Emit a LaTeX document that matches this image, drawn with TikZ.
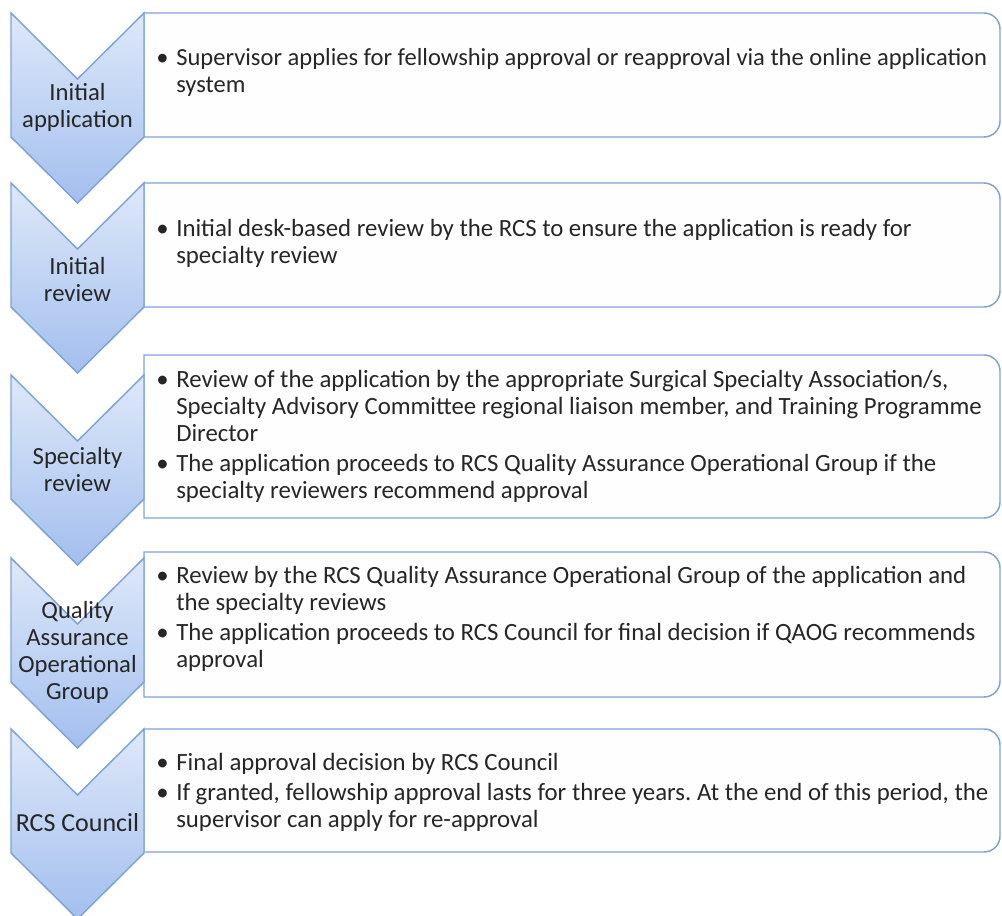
\documentclass[tikz,border=0pt]{standalone}
\usepackage{fontspec}
\setmainfont{Carlito}
\usepackage{array}
\frenchspacing
\definecolor{chevtop}{HTML}{DEE8F9}
\definecolor{chevbot}{HTML}{A3BFEE}
\definecolor{chevline}{HTML}{7EA3D8}
\definecolor{panelline}{HTML}{7EA3D8}
\definecolor{panelfill}{HTML}{FEFEFE}
\definecolor{textcol}{HTML}{262626}
% one process stage: chevron with its top edge at y=#1
\newcommand{\stagechevron}[1]{%
  \draw[stage] (11,#1) -- (77.5,#1+66) -- (144,#1) -- (144,#1+124)
    -- (77.5,#1+190) -- (11,#1+124) -- cycle;}
% description panel from y=#1 to y=#2, right corners rounded
\newcommand{\stagepanel}[2]{%
  \draw[panel] (144,#1) -- (984,#1) arc[start angle=90,end angle=0,radius=12pt]
    -- (1000,#2-16) arc[start angle=0,end angle=-90,radius=12pt] -- (144,#2) -- cycle;}
\newcommand{\bul}{\textbullet}
\begin{document}
\begin{tikzpicture}[x=0.75pt,y=-0.75pt,
  stage/.style={draw=chevline, line width=1.1pt, top color=chevtop, bottom color=chevbot},
  panel/.style={draw=panelline, line width=1.1pt, fill=panelfill},
  lbl/.style={align=center, text=textcol, font=\fontsize{18.5pt}{20.25pt}\selectfont, inner sep=0pt},
  desc/.style={anchor=west, text=textcol, font=\fontsize{18.6pt}{20.25pt}\selectfont, inner sep=0pt}]
\useasboundingbox[fill=white] (0,0) rectangle (1002,916);

% panels
\stagepanel{13}{137}
\stagepanel{183}{307}
\stagepanel{355}{518}
\stagepanel{552}{697}
\stagepanel{729}{852}

% chevrons
\stagechevron{13}
\stagechevron{183}
\stagechevron{375}
\stagechevron{558}
\stagechevron{729}

% chevron labels
\node[lbl] (s1) at (77.5,107) {Initial\\application};
\node[lbl] (s2) at (77.5,280) {Initial\\review};
\node[lbl] (s3) at (77.5,470) {Specialty\\review};
\node[lbl] (s4) at (77.5,652) {Quality\\Assurance\\Operational\\Group};
\node[lbl, font=\fontsize{19.5pt}{21pt}\selectfont] (s5) at (77.5,823) {RCS Council};

% panel texts
\node[desc, font=\fontsize{18.4pt}{20.25pt}\selectfont] (d1) at (156,74) {\begin{tabular}{@{}p{15pt}@{}l@{}}
\bul & Supervisor applies for fellowship approval or reapproval via the online application\\
 & system
\end{tabular}};
\node[desc] (d2) at (156,245) {\begin{tabular}{@{}p{15pt}@{}l@{}}
\bul & Initial desk-based review by the RCS to ensure the application is ready for\\
 & specialty review
\end{tabular}};
\node[desc] (d3) at (156,438) {\begin{tabular}{@{}p{15pt}@{}l@{}}
\bul & Review of the application by the appropriate Surgical Specialty Association/s,\\
 & Specialty Advisory Committee regional liaison member, and Training Programme\\
 & Director\\[2.25pt]
\bul & The application proceeds to RCS Quality Assurance Operational Group if the\\
 & specialty reviewers recommend approval
\end{tabular}};
\node[desc] (d4) at (156,620) {\begin{tabular}{@{}p{15pt}@{}l@{}}
\bul & Review by the RCS Quality Assurance Operational Group of the application and\\
 & the specialty reviews\\[2.25pt]
\bul & The application proceeds to RCS Council for final decision if QAOG recommends\\
 & approval
\end{tabular}};
\node[desc] (d5) at (156,794) {\begin{tabular}{@{}p{15pt}@{}l@{}}
\bul & Final approval decision by RCS Council\\[2.25pt]
\bul & \makebox[609pt][s]{If granted, fellowship approval lasts for three years. At the end of this period, the}\\
 & supervisor can apply for re-approval
\end{tabular}};
\end{tikzpicture}
\end{document}
